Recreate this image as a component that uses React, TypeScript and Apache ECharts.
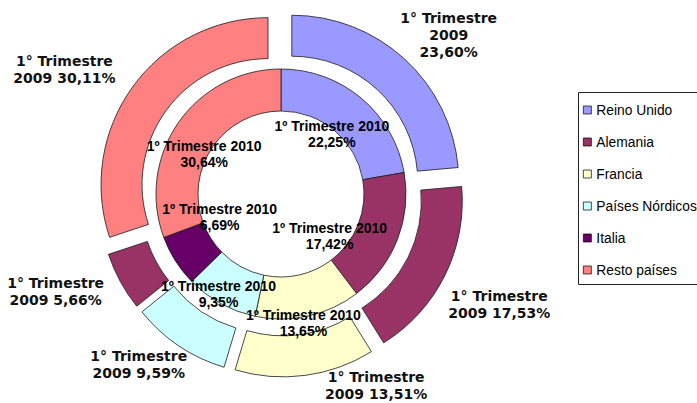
import { useEffect, useRef } from 'react';
import * as echarts from 'echarts';

const categories = ['Reino Unido', 'Alemania', 'Francia', 'Países Nórdicos', 'Italia', 'Resto países'];
const values2010 = [22.25, 17.42, 13.65, 9.35, 6.69, 30.64];
const values2009 = [23.6, 17.53, 13.51, 9.59, 5.66, 30.11];
const colors = ['#9999FF', '#993366', '#FFFFCC', '#CCFFFF', '#660066', '#FF8080'];
const outerColors = ['#9999FF', '#993366', '#FFFFCC', '#CCFFFF', '#993366', '#FF8080'];
const innerLabelNudge = [[-18, 22], [-51, 3], [-1, 25], [-11, 6], [29, -34], [11, 21]];
const outerLabelNudge = [[9, 14], [8, 6], [64, -41], [-11, -24], [-19, -15], [-26, 13]];

const fmt = (v: number) => v.toFixed(2).replace('.', ',') + '%';

export default function App() {
  const ref = useRef<HTMLDivElement>(null);
  useEffect(() => {
    if (!ref.current) return;
    const chart = echarts.init(ref.current, undefined, { renderer: 'svg' });
    const center = [281, 194];
    const border = { borderColor: '#1a1a1a', borderWidth: 0.8 };
    chart.setOption({
      animation: false,
      backgroundColor: '#ffffff',
      legend: {
        data: categories.map((n, i) => ({
          name: n,
          itemStyle: { color: colors[i], borderColor: '#000', borderWidth: 0.7 },
        })),
        orient: 'vertical',
        left: 583,
        top: 103,
        padding: 0,
        itemWidth: 8,
        itemHeight: 8,
        itemGap: 18,
        icon: 'rect',
        selectedMode: false,
        itemStyle: { borderColor: '#000', borderWidth: 0.7 },
        textStyle: { fontFamily: 'Liberation Sans', fontSize: 13.8, color: '#000', lineHeight: 14 },
      },
      graphic: [
        {
          type: 'rect',
          shape: { x: 578.5, y: 92.5, width: 130, height: 192 },
          style: { fill: 'none', stroke: '#222', lineWidth: 1 },
          silent: true,
        },
      ],
      series: [
        {
          type: 'pie',
          name: '2009',
          center,
          radius: [126, 167],
          startAngle: 90,
          clockwise: true,
          selectedMode: 'multiple',
          selectedOffset: 16,
          avoidLabelOverlap: false,
          emphasis: { disabled: true },
          select: { itemStyle: border },
          label: { show: false },
          labelLine: { show: false },
          itemStyle: border,
          data: categories.map((n, i) => ({
            name: n,
            value: values2009[i],
            selected: true,
            itemStyle: { color: outerColors[i] },
          })),
        },
        {
          type: 'pie',
          name: '2010',
          center,
          radius: [83, 125],
          startAngle: 90,
          clockwise: true,
          selectedMode: false,
          avoidLabelOverlap: false,
          emphasis: { disabled: true },
          itemStyle: border,
          label: {
            show: true,
            position: 'inside',
            color: '#000',
            fontFamily: 'Liberation Sans',
            fontWeight: 'bold',
            fontSize: 14,
            lineHeight: 16,
            align: 'center',
            formatter: (p: any) => `1º Trimestre 2010\n${fmt(values2010[p.dataIndex])}`,
          },
          labelLine: { show: false },
          labelLayout: (p: any) => ({ dx: innerLabelNudge[p.dataIndex][0], dy: innerLabelNudge[p.dataIndex][1] }),
          data: categories.map((n, i) => ({
            name: n,
            value: values2010[i],
            itemStyle: { color: colors[i] },
          })),
        },
        {
          type: 'pie',
          name: '2009 labels',
          center,
          radius: [222, 242],
          startAngle: 90,
          clockwise: true,
          silent: true,
          legendHoverLink: false,
          selectedMode: false,
          avoidLabelOverlap: false,
          emphasis: { disabled: true },
          itemStyle: { color: 'rgba(0,0,0,0)', borderWidth: 0 },
          label: {
            show: true,
            position: 'inside',
            color: '#111',
            fontFamily: 'DejaVu Sans',
            fontWeight: 'bold',
            fontSize: 14,
            lineHeight: 17,
            align: 'center',
            formatter: (p: any) =>
              p.dataIndex === 0
                ? `1° Trimestre\n2009\n${fmt(values2009[p.dataIndex])}`
                : `1° Trimestre\n2009 ${fmt(values2009[p.dataIndex])}`,
          },
          labelLine: { show: false },
          labelLayout: (p: any) => ({ dx: outerLabelNudge[p.dataIndex][0], dy: outerLabelNudge[p.dataIndex][1] }),
          data: categories.map((n, i) => ({ name: n + ' ', value: values2009[i] })),
        },
      ],
    });
    return () => chart.dispose();
  }, []);
  return (
    <div
      ref={ref}
      style={{ position: 'absolute', left: 0, top: 0, width: 697, height: 403 }}
    />
  );
}
